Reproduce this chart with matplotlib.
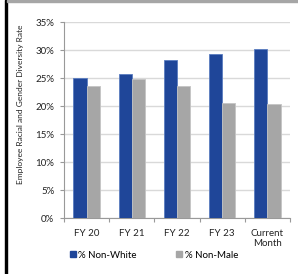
import numpy as np
import matplotlib.pyplot as plt
from matplotlib.lines import Line2D
from matplotlib.patches import Rectangle

categories = ['FY 20', 'FY 21', 'FY 22', 'FY 23', 'Current\nMonth']
non_white = [25.0, 25.7, 28.3, 29.2, 30.1]
non_male = [23.5, 24.9, 23.5, 20.5, 20.4]
yticks = [0, 5, 10, 15, 20, 25, 30, 35]

W, H = 298, 274
fig = plt.figure(figsize=(W / 100, H / 100), dpi=100)
plt.rcParams['font.family'] = ['Lato', 'DejaVu Sans']

# plot area in pixels: x 64..290, y 22..218
ax = fig.add_axes([64 / W, 1 - 218 / H, 226 / W, 196 / H])

blue = '#1F4699'
gray = '#A6A6A6'
x = np.arange(len(categories))
bw = 0.29
ax.bar(x - bw / 2, non_white, bw, color=blue, edgecolor='#5A7CC0', linewidth=0.6, zorder=3)
ax.bar(x + bw / 2, non_male, bw, color=gray, edgecolor='#C4C4C4', linewidth=0.6, zorder=3)

ax.set_xlim(-0.5, len(categories) - 0.5)
ax.set_ylim(0, 35)
ax.set_yticks(yticks)
ax.set_yticklabels([f'{v}%' for v in yticks], fontsize=7, color='#222222')
ax.set_xticks(x)
ax.set_xticklabels(categories, fontsize=7, color='#222222', linespacing=1.1)
ax.set_xticks(np.arange(-0.5, len(categories)), minor=True)
ax.tick_params(axis='x', which='major', length=0, pad=8)
ax.tick_params(axis='x', which='minor', length=3, color='#999999', width=0.8)
ax.tick_params(axis='y', length=3, color='#999999', width=0.8, pad=4)
ax.grid(axis='y', color='#D9D9D9', linewidth=1, zorder=0)
for s in ['top', 'right']:
    ax.spines[s].set_visible(False)
for s in ['left', 'bottom']:
    ax.spines[s].set_color('#999999')
    ax.spines[s].set_linewidth(0.8)

fig.text(21 / W, 1 - 104 / H, 'Employee Racial and Gender Diversity Rate',
         rotation=90, ha='center', va='center', fontsize=6, color='#222222')

handles = [Line2D([], [], marker='s', linestyle='none', color=blue, markersize=5),
           Line2D([], [], marker='s', linestyle='none', color=gray, markersize=5)]
fig.legend(handles, ['% Non-White', '% Non-Male'], loc='center left', ncol=2,
           bbox_to_anchor=(59 / W, 1 - 255 / H), frameon=False, fontsize=7,
           handletextpad=0.1, columnspacing=3.8, handlelength=1)

# frame bits: black left bar, gray top band
fig.patches.append(Rectangle((5 / W, 0), 2.3 / W, 1, transform=fig.transFigure,
                             color='black', zorder=5))
fig.patches.append(Rectangle((7 / W, 1 - 2 / H), 1, 2 / H, transform=fig.transFigure,
                             color='#A6A6A6', zorder=5))

fig.savefig('out.png', dpi=100)
